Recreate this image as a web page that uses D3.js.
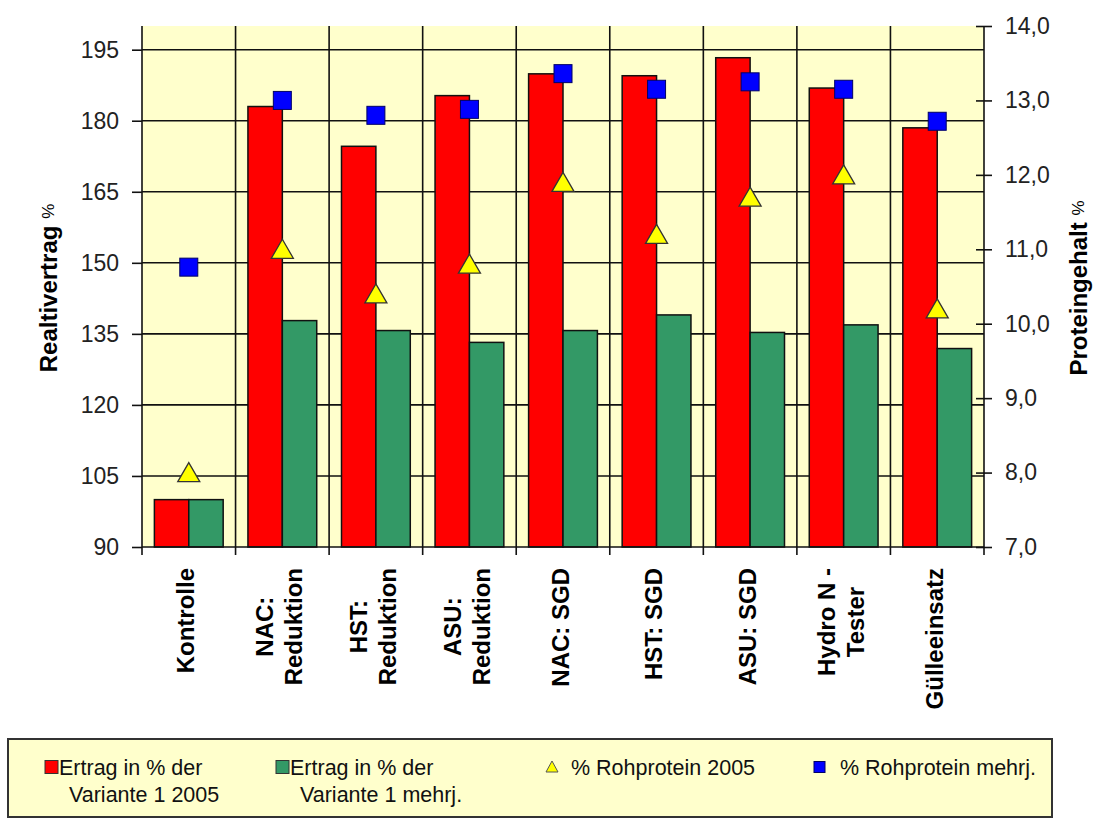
<!DOCTYPE html>
<html>
<head>
<meta charset="utf-8">
<script src="https://cdn.jsdelivr.net/npm/d3@7"></script>
<style>
  body { margin: 0; background: #fff; }
  text { font-family: "Liberation Sans", Arial, sans-serif; }
</style>
</head>
<body>
<div id="vis-1"></div>
<script>
// -------------------------------- Datos ------------------------------
const categories = [
    ["Kontrolle"], ["NAC:", "Reduktion"], ["HST:", "Reduktion"], ["ASU:", "Reduktion"],
    ["NAC: SGD"], ["HST: SGD"], ["ASU: SGD"], ["Hydro N -", "Tester"], ["Gülleeinsatz"]
];
const ertrag2005  = [100, 183.0, 174.6, 185.3, 189.9, 189.5, 193.3, 186.9, 178.5];
const ertragMehrj = [100, 137.8, 135.7, 133.2, 135.7, 139.0, 135.3, 136.9, 131.9];
const protein2005  = [8.0, 11.0, 10.4, 10.8, 11.9, 11.2, 11.7, 12.0, 10.2];
const proteinMehrj = [10.76, 13.0, 12.8, 12.88, 13.36, 13.15, 13.25, 13.15, 12.72];

const leftTicks = [90, 105, 120, 135, 150, 165, 180, 195];
const rightTicks = [7, 8, 9, 10, 11, 12, 13, 14];
const legendLabels = [
    ["Ertrag in % der", "Variante 1 2005"],
    ["Ertrag in % der", "Variante 1 mehrj."],
    ["% Rohprotein 2005"],
    ["% Rohprotein mehrj."]
];

// -------------------------------- Grafo ------------------------------
const W = 1097, H = 820;
const plot = {left: 142, right: 984, top: 26, bottom: 547};
const BG = "#FFFFCC";
const RED = "#FF0000", GREEN = "#339966", YELLOW = "#FFFF00", BLUE = "#0000FF";
const LINE = "#111";

const svg = d3.select("#vis-1").append("svg")
    .attr("width", W)
    .attr("height", H);

const x = d3.scaleBand()
    .domain(d3.range(categories.length))
    .range([plot.left, plot.right])
    .padding(0);

const xSub = d3.scaleBand()
    .domain([0, 1])
    .range([0, x.bandwidth()])
    .paddingOuter(0.36)
    .paddingInner(0);

const yLeft = d3.scaleLinear().domain([90, 200]).range([plot.bottom, plot.top]);
const yRight = d3.scaleLinear().domain([7, 14]).range([plot.bottom, plot.top]);

// fondo
svg.append("rect")
    .attr("x", plot.left).attr("y", plot.top)
    .attr("width", plot.right - plot.left)
    .attr("height", plot.bottom - plot.top)
    .attr("fill", BG);

// rejilla
const grid = svg.append("g").attr("stroke", LINE).attr("stroke-width", 1.6);
grid.selectAll(".hgrid")
    .data(leftTicks.slice(1))
    .enter().append("line")
    .attr("x1", plot.left).attr("x2", plot.right)
    .attr("y1", d => yLeft(d)).attr("y2", d => yLeft(d));
grid.selectAll(".vgrid")
    .data(d3.range(1, categories.length))
    .enter().append("line")
    .attr("x1", d => x(d)).attr("x2", d => x(d))
    .attr("y1", plot.top).attr("y2", plot.bottom + 8);

// barras
const bars = svg.append("g").attr("stroke", LINE).attr("stroke-width", 1.5);
[ertrag2005, ertragMehrj].forEach((serie, k) => {
    bars.selectAll(".bar" + k)
        .data(serie)
        .enter().append("rect")
        .attr("x", (d, i) => x(i) + xSub(k))
        .attr("width", xSub.bandwidth())
        .attr("y", d => yLeft(d))
        .attr("height", d => plot.bottom - yLeft(d))
        .attr("fill", k == 0 ? RED : GREEN);
});

// ejes
const axisL = svg.append("g")
    .attr("transform", "translate(" + plot.left + ",0)")
    .call(d3.axisLeft(yLeft).tickValues(leftTicks).tickSize(10).tickPadding(13).tickFormat(d3.format("d")));
axisL.select(".domain").attr("stroke", LINE).attr("stroke-width", 1.6).attr("d", "M0," + plot.top + "V" + plot.bottom);
axisL.selectAll("line").attr("stroke", LINE).attr("stroke-width", 1.6);
axisL.selectAll("text").attr("font-size", 23).attr("fill", "#222");

const axisR = svg.append("g")
    .attr("transform", "translate(" + plot.right + ",0)")
    .call(d3.axisRight(yRight).tickValues(rightTicks).tickSize(8).tickPadding(13)
        .tickFormat(d => d.toFixed(1).replace(".", ",")));
axisR.select(".domain").attr("stroke", LINE).attr("stroke-width", 1.6).attr("d", "M0," + plot.top + "V" + plot.bottom);
axisR.selectAll("line").attr("x1", -8).attr("stroke", LINE).attr("stroke-width", 1.6);
axisR.selectAll("text").attr("font-size", 23).attr("fill", "#222");

svg.append("line")
    .attr("x1", plot.left).attr("x2", plot.right)
    .attr("y1", plot.bottom).attr("y2", plot.bottom)
    .attr("stroke", LINE).attr("stroke-width", 1.6);
svg.selectAll(".xtick")
    .data([0, categories.length])
    .enter().append("line")
    .attr("x1", d => d == 0 ? plot.left : plot.right)
    .attr("x2", d => d == 0 ? plot.left : plot.right)
    .attr("y1", plot.bottom).attr("y2", plot.bottom + 8)
    .attr("stroke", LINE).attr("stroke-width", 1.6);

// marcadores
const cx = i => x(i) + x.bandwidth() / 2;
const triangle = "M0,-10L11,9L-11,9Z";

svg.selectAll(".tri")
    .data(protein2005)
    .enter().append("path")
    .attr("d", triangle)
    .attr("transform", (d, i) => "translate(" + cx(i) + "," + yRight(d) + ")")
    .attr("fill", YELLOW)
    .attr("stroke", "#333")
    .attr("stroke-width", 1.3);

svg.selectAll(".sq")
    .data(proteinMehrj)
    .enter().append("rect")
    .attr("x", (d, i) => cx(i) - 9)
    .attr("y", d => yRight(d) - 9)
    .attr("width", 18).attr("height", 18)
    .attr("fill", BLUE)
    .attr("stroke", "#000066")
    .attr("stroke-width", 1);

// etiquetas de categoria
const lineH = 29;
const catLabel = svg.selectAll(".cat")
    .data(categories)
    .enter().append("g")
    .attr("transform", (d, i) => "translate(" + (cx(i) - (d.length - 1) * lineH / 2 - 3) + "," + 568 + ") rotate(-90)");

catLabel.each(function(lines) {
    const g = d3.select(this);
    const texts = lines.map((t, j) => g.append("text")
        .attr("y", j * lineH)
        .attr("dy", "0.36em")
        .attr("font-size", 24)
        .attr("font-weight", "bold")
        .attr("text-anchor", "middle")
        .text(t));
    const maxW = d3.max(texts, t => t.node().getComputedTextLength());
    texts.forEach(t => t.attr("x", -maxW / 2));
});

// titulos de ejes
function axisTitle(xPos, yPos, label) {
    const t = svg.append("text")
        .attr("transform", "translate(" + xPos + "," + yPos + ") rotate(-90)")
        .attr("text-anchor", "middle")
        .attr("font-size", 24)
        .attr("font-weight", "bold");
    t.append("tspan").text(label + " ");
    t.append("tspan").attr("font-weight", "normal").attr("font-size", 17).attr("dy", -3).text("%");
}
axisTitle(57, 288, "Realtivertrag");
axisTitle(1087, 288, "Proteingehalt");

// leyenda
const legend = svg.append("g");
legend.append("rect")
    .attr("x", 8).attr("y", 739)
    .attr("width", 1044).attr("height", 78)
    .attr("fill", BG)
    .attr("stroke", "#333")
    .attr("stroke-width", 2);

const legendX = [45, 276, 546, 814];
const legendText = [59, 290, 571, 840];
const legendColors = [RED, GREEN, YELLOW, BLUE];

legendLabels.forEach((lines, k) => {
    if (k == 2) {
        legend.append("path")
            .attr("d", "M0,-6L6,5L-6,5Z")
            .attr("transform", "translate(" + (legendX[k] + 6) + ",767)")
            .attr("fill", YELLOW).attr("stroke", "#555").attr("stroke-width", 1);
    } else {
        const s = k == 3 ? 11 : 13;
        legend.append("rect")
            .attr("x", legendX[k]).attr("y", 767 - s / 2)
            .attr("width", s).attr("height", s)
            .attr("fill", legendColors[k])
            .attr("stroke", k == 3 ? "#000066" : "#333").attr("stroke-width", 1);
    }
    lines.forEach((t, j) => {
        legend.append("text")
            .attr("x", legendText[k] + (j > 0 ? 10 : 0))
            .attr("y", 775 + j * 27)
            .attr("font-size", 21.5)
            .attr("fill", "#111")
            .text(t);
    });
});
</script>
</body>
</html>
